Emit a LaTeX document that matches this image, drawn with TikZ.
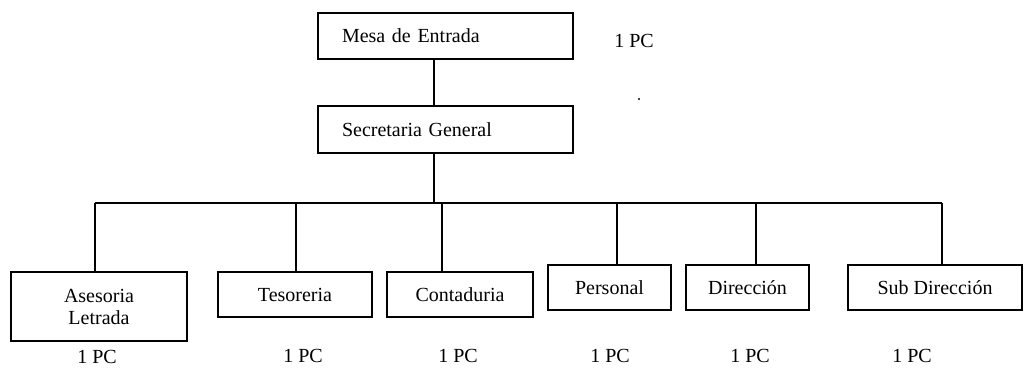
\documentclass[tikz,border=0pt]{standalone}
\usepackage{fontspec}
\setmainfont{Liberation Serif}
\begin{document}
\begin{tikzpicture}[x=1pt,y=-1pt,
  every node/.style={font=\fontsize{20}{22}\selectfont},
  box/.style={draw, line width=1.4pt, rectangle, inner sep=0pt, align=center},
  lbox/.style={draw, line width=1.4pt, rectangle, inner ysep=0pt, inner xsep=24pt, align=left, text width=207pt, minimum height=46pt},
  pc/.style={inner sep=0pt},
  conn/.style={line width=1.5pt}]
\useasboundingbox (0,0) rectangle (1028,367);
% top boxes
\node[lbox] (mesa) at (445.5,36) {Mesa de Entrada};
\node[lbox, minimum height=47pt] (sec) at (445.5,129.5) {Secretaria General};
% bottom boxes
\node[box, minimum width=176pt, minimum height=69pt] (ases) at (99,306.5) {Asesoria\\Letrada};
\node[box, minimum width=154pt, minimum height=45pt] (teso) at (295,294.5) {Tesoreria};
\node[box, minimum width=146pt, minimum height=45pt] (cont) at (460,294.5) {Contaduria};
\node[box, minimum width=123pt, minimum height=45pt] (pers) at (609.5,287.5) {Personal};
\node[box, minimum width=123pt, minimum height=45pt] (dir) at (747.5,287.5) {Dirección};
\node[box, minimum width=174pt, minimum height=45pt] (sub) at (935,287.5) {Sub Dirección};
% labels
\node[pc] (pc0) at (634,41) {1 PC};
\node[pc] (pc1) at (97,356.5) {1 PC};
\node[pc] (pc2) at (303,356) {1 PC};
\node[pc] (pc3) at (458,356) {1 PC};
\node[pc] (pc4) at (610,356) {1 PC};
\node[pc] (pc5) at (750,356) {1 PC};
\node[pc] (pc6) at (912,356) {1 PC};
% bus coordinates
\coordinate (hub) at (434,203);
\coordinate (ba) at (95,203);
\coordinate (bt) at (296,203);
\coordinate (bc) at (442,203);
\coordinate (bp) at (617,203);
\coordinate (bd) at (756,203);
\coordinate (bs) at (942,203);
% connectors
\draw[conn] (mesa.south -| hub) -- (sec.north -| hub);
\draw[conn] (sec.south -| hub) -- (hub);
\draw[conn] (ba) -- (bs);
\draw[conn] (ba) -- (ba |- ases.north);
\draw[conn] (bt) -- (bt |- teso.north);
\draw[conn] (bc) -- (bc |- cont.north);
\draw[conn] (bp) -- (bp |- pers.north);
\draw[conn] (bd) -- (bd |- dir.north);
\draw[conn] (bs) -- (bs |- sub.north);
% scan dot
\fill (639,99) circle (1.2pt);
\end{tikzpicture}
\end{document}
